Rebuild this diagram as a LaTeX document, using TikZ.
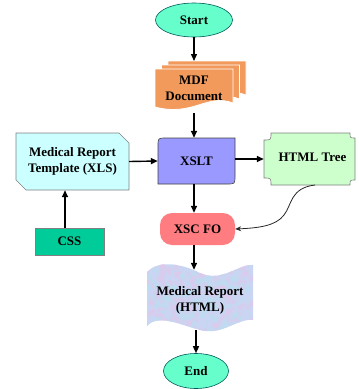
\documentclass[tikz,border=0pt]{standalone}
\usepackage{fontspec}
\setmainfont{Liberation Serif}
\usetikzlibrary{shapes.geometric,arrows.meta}
\definecolor{mintc}{HTML}{66FFCC}
\definecolor{orangec}{HTML}{F29A5C}
\definecolor{cyanc}{HTML}{CCFFFF}
\definecolor{cssc}{HTML}{00CC99}
\definecolor{xsltc}{HTML}{9999FF}
\definecolor{htmlc}{HTML}{CCFFCC}
\definecolor{foc}{HTML}{FF7C80}
\definecolor{tapec}{HTML}{C9D5F2}
\definecolor{tapeb}{HTML}{E2C8EC}
\definecolor{tapea}{HTML}{B8E0F0}
\begin{document}
\begin{tikzpicture}[x=1pt,y=-1pt,
  every node/.style={font=\fontsize{13}{16}\selectfont\bfseries, align=center, inner sep=0pt},
  arr/.style={line width=1.4pt, -{Triangle[length=7pt,width=6pt]}},
  curvearr/.style={line width=0.8pt, black!85, -{Stealth[length=6pt,width=5pt]}},
  term/.style={ellipse, draw=teal!70!black, fill=mintc, line width=0.6pt},
  docshape/.pic={\path[fill=orangec, draw=white, line width=0.8pt] (0,0) -- (78,0) -- (78,34) .. controls (52,24) and (38,48) .. (0,38) -- cycle;},
  plain/.style={draw=black!50, line width=0.6pt}
]
\useasboundingbox (0,0) rectangle (359,389);

% MDF document stack
\pic at (168,61) {docshape};
\pic at (161.5,65) {docshape};
\pic at (155,69) {docshape};

% XSLT shape
\draw[fill=xsltc, draw=black!75, line width=0.6pt] (166,138) -- (235,138) -- (235,176) .. controls (235,184) .. (227,184) -- (158,184) -- (158,146) .. controls (158,138) .. (166,138) -- cycle;

% Template (snipped corners)
\draw[fill=cyanc, plain] (16,133) -- (119,133) -- (129,143) -- (129,190) -- (26,190) -- (16,180) -- cycle;

% HTML Tree (plaque)
\draw[fill=htmlc, plain] (271,133) -- (350,133) .. controls (350,138) .. (355,138) -- (355,180) .. controls (350,180) .. (350,185) -- (271,185) .. controls (271,178) .. (264,178) -- (264,140) .. controls (271,140) .. (271,133) -- cycle;

% Medical report (tape) with texture
\begin{scope}
\clip (147,272) .. controls (157,261) and (178,262) .. (200,273) .. controls (222,283) and (240,263) .. (253,265) -- (253,320) .. controls (238,318) and (222,336) .. (200,330) .. controls (178,324) and (158,314) .. (147,326) -- cycle;
\fill[tapec] (140,255) rectangle (260,340);
\pgfmathsetseed{7}
\foreach \i in {1,...,260} {
  \pgfmathsetmacro{\px}{147+106*rnd}
  \pgfmathsetmacro{\py}{260+75*rnd}
  \pgfmathsetmacro{\pr}{1+2.5*rnd}
  \fill[tapeb, opacity=0.55] (\px,\py) circle[radius=\pr pt];
}
\foreach \i in {1,...,200} {
  \pgfmathsetmacro{\px}{147+106*rnd}
  \pgfmathsetmacro{\py}{260+75*rnd}
  \pgfmathsetmacro{\pr}{1+2.5*rnd}
  \fill[tapea, opacity=0.5] (\px,\py) circle[radius=\pr pt];
}
\end{scope}

% Nodes
\node[term, minimum width=77pt, minimum height=34pt] (start) at (194,20) {Start};
\node[minimum width=78pt, minimum height=38pt] (mdf) at (194,88) {MDF\\Document};
\coordinate (mdftop) at (194,61);
\node[minimum width=77pt, minimum height=46pt] (xslt) at (196.5,161) {XSLT};
\node[minimum width=113pt, minimum height=57pt] (tmpl) at (72.5,161.5) {Medical Report\\Template (XLS)};
\node[plain, fill=cssc, minimum width=69pt, minimum height=27pt] (css) at (69.5,241.5) {CSS};
\node[minimum width=91pt, minimum height=52pt] (html) at (309.5,157) {\hspace*{6pt}HTML Tree};
\node[fill=foc, rounded corners=12pt, minimum width=75pt, minimum height=32pt] (fo) at (197.5,229) {XSC FO};
\node[minimum width=106pt, minimum height=60pt] (rep) at (200,300) {Medical Report\\(HTML)};
\node[term, minimum width=65pt, minimum height=35pt] (end) at (196,371) {End};
\coordinate (curvestart) at (315,185);

% Connectors
\draw[arr] (start.south) -- (mdftop);
\draw[arr] ([yshift=-6pt]mdf.south) -- (mdf.south |- xslt.north);
\draw[arr] (tmpl.east) -- (xslt.west);
\draw[arr] (css.north -| 65,0) -- (tmpl.south -| 65,0);
\draw[arr] (xslt.east |- 0,159) -- (html.west |- 0,159);
\draw[arr] (xslt.south -| start) -- (fo.north -| start);
\draw[curvearr] (curvestart) .. controls (290,188) and (292,205) .. (284,215) .. controls (276,226) and (258,228) .. (fo.east);
\draw[arr] (fo.south -| start) -- (rep.north -| start);
\draw[arr] (rep.south -| end) -- (end.north);
\end{tikzpicture}
\end{document}
